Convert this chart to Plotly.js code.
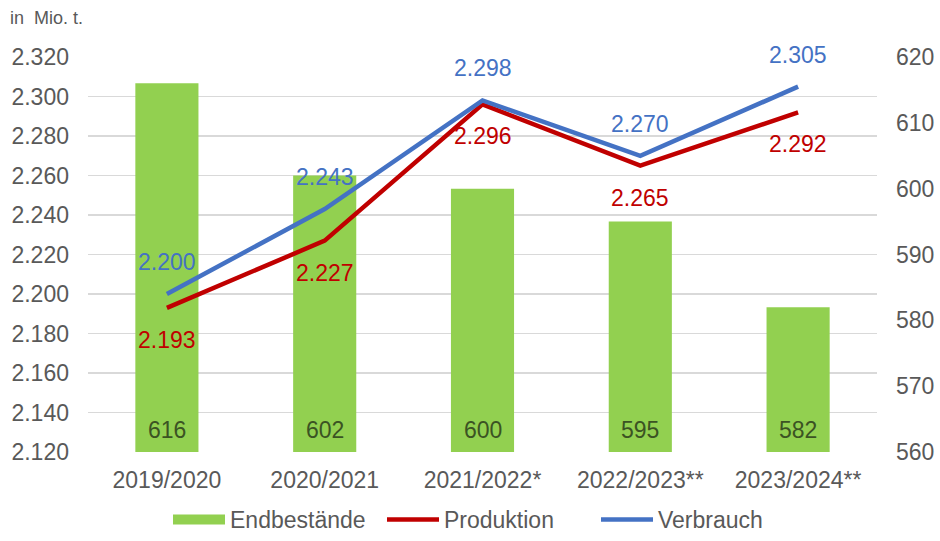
<!DOCTYPE html>
<html><head><meta charset="utf-8">
<script src="https://cdn.plot.ly/plotly-3.0.1.min.js"></script>
<style>html,body{margin:0;padding:0;background:#fff}#chart{width:940px;height:541px}</style>
</head><body><div id="chart"></div>
<script>
const categories = ['2019/2020','2020/2021','2021/2022*','2022/2023**','2023/2024**'];
const endbestaende = [616, 602, 600, 595, 582];
const produktion = [2193, 2227, 2296, 2265, 2292];
const verbrauch = [2200, 2243, 2298, 2270, 2305];
const seriesNames = ['Endbestände', 'Produktion', 'Verbrauch'];

const FONT = 'Liberation Sans, Arial, sans-serif';
const GRAY = '#595959';
const GREEN = '#92D050';
const RED = '#C00000';
const BLUE = '#4472C4';
const FS = 23;

const fmt = v => String(v).replace(/\B(?=(\d{3})+(?!\d))/g, '.');

const traces = [
  {type:'bar', name:seriesNames[0], x:categories, y:endbestaende, yaxis:'y',
   marker:{color:GREEN}, hoverinfo:'skip', showlegend:false},
  {type:'scatter', mode:'lines', name:seriesNames[0], x:[null], y:[null], yaxis:'y',
   line:{color:GREEN, width:12}, hoverinfo:'skip', showlegend:true},
  {type:'scatter', mode:'lines', name:seriesNames[1], x:categories, y:produktion, yaxis:'y2',
   line:{color:RED, width:4.5}, hoverinfo:'skip'},
  {type:'scatter', mode:'lines', name:seriesNames[2], x:categories, y:verbrauch, yaxis:'y2',
   line:{color:BLUE, width:4.5}, hoverinfo:'skip'}
];

const annotations = [];
categories.forEach((c,i)=>{
  annotations.push({x:c, y:560, xref:'x', yref:'y', yshift:22, text:fmt(endbestaende[i]),
    showarrow:false, font:{family:FONT, size:FS, color:'#3B5323'}, yanchor:'middle'});
  annotations.push({x:c, y:produktion[i], xref:'x', yref:'y2', yshift:-32, text:fmt(produktion[i]),
    showarrow:false, font:{family:FONT, size:FS, color:RED}, yanchor:'middle'});
  annotations.push({x:c, y:verbrauch[i], xref:'x', yref:'y2', yshift:32, text:fmt(verbrauch[i]),
    showarrow:false, font:{family:FONT, size:FS, color:BLUE}, yanchor:'middle'});
});
annotations.push({xref:'paper', yref:'paper', x:-80/789, y:(452-18)/395, xanchor:'left', yanchor:'middle',
  text:'in  Mio. t.', showarrow:false, font:{family:FONT, size:18, color:GRAY}});

const layout = {
  width:940, height:541,
  margin:{l:88, r:63, t:57, b:89, autoexpand:false},
  paper_bgcolor:'#fff', plot_bgcolor:'#fff',
  separators:',.',
  font:{family:FONT, size:FS, color:GRAY},
  bargap:0.6,
  showlegend:true,
  legend:{orientation:'h', x:(168-88)/789, xanchor:'left', y:(452-541)/395, yanchor:'bottom',
    font:{family:FONT, size:FS, color:GRAY}, itemwidth:52, traceorder:'normal',
    entrywidth:147, entrywidthmode:'pixels', bgcolor:'rgba(0,0,0,0)'},
  xaxis:{type:'category', showgrid:false, zeroline:false, showline:false, ticks:'',
    tickfont:{family:FONT, size:FS, color:GRAY}, ticklabelstandoff:12},
  yaxis:{side:'right', range:[560,620], dtick:10, showgrid:false, zeroline:false, showline:false,
    ticks:'', tickfont:{family:FONT, size:FS, color:GRAY}, ticklabelstandoff:18},
  yaxis2:{side:'left', overlaying:'y', range:[2120,2320], dtick:20, tickformat:',d',
    showgrid:true, gridcolor:'#D9D9D9', gridwidth:1.5, zeroline:false, showline:false, ticks:'',
    tickfont:{family:FONT, size:FS, color:GRAY}, ticklabelstandoff:18},
  annotations:annotations
};

Plotly.newPlot('chart', traces, layout, {displayModeBar:false, staticPlot:true});
</script></body></html>
